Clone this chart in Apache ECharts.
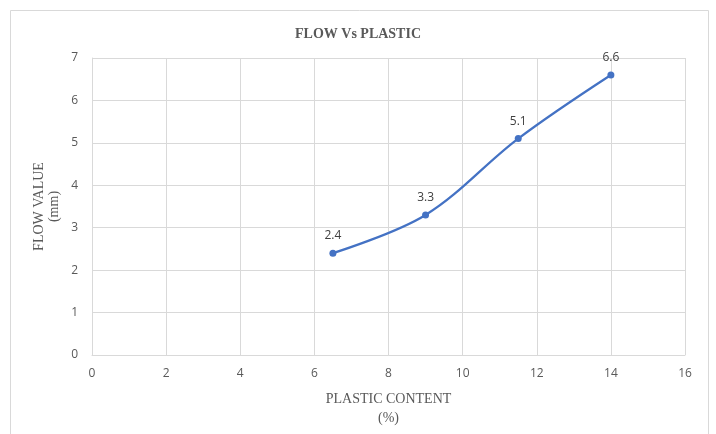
<!DOCTYPE html>
<html>
<head>
<meta charset="utf-8">
<script src="https://cdn.jsdelivr.net/npm/echarts@6/dist/echarts.min.js"></script>
<style>
  html, body { margin: 0; padding: 0; background: #fff; }
  #chart { width: 716px; height: 434px; }
</style>
</head>
<body>
<div id="chart"></div>
<script>
// Plastic content (%) against measured flow value (mm)
const plasticContent = [6.5, 9, 11.5, 14];
const flowValue = [2.4, 3.3, 5.1, 6.6];
const titleText = 'FLOW Vs PLASTIC';
const xAxisTitle = 'PLASTIC CONTENT\n(%)';
const yAxisTitle = 'FLOW VALUE\n(mm)';

const points = plasticContent.map((x, i) => [x, flowValue[i]]);

const chart = echarts.init(document.getElementById('chart'), null, { renderer: 'canvas' });
const gridColor = '#d9d9d9';
const textColor = '#595959';
const serif = '"Liberation Serif", "DejaVu Serif", serif';
const sans = '"Open Sans", "Liberation Sans", sans-serif';

chart.setOption({
  backgroundColor: '#fff',
  animation: false,
  graphic: [{
    type: 'rect',
    shape: { x: 10.5, y: 10.5, width: 698, height: 440 },
    style: { fill: 'none', stroke: gridColor, lineWidth: 1 },
    silent: true
  }],
  title: {
    text: titleText,
    left: 'center',
    top: 22,
    textStyle: { fontFamily: serif, fontWeight: 'bold', fontSize: 14, color: textColor }
  },
  grid: { left: 92, right: 31, top: 58, bottom: 79, containLabel: false, outerBoundsMode: 'none' },
  xAxis: {
    type: 'value',
    min: 0, max: 16, interval: 2,
    name: xAxisTitle,
    nameLocation: 'middle',
    nameGap: 35,
    nameMoveOverlap: false,
    nameTextStyle: { fontFamily: serif, fontSize: 14, color: textColor, lineHeight: 19 },
    axisLine: { show: true, lineStyle: { color: gridColor } },
    axisTick: { show: false },
    axisLabel: { fontFamily: sans, fontSize: 12, color: textColor, margin: 13 },
    splitLine: { show: true, lineStyle: { color: gridColor } }
  },
  yAxis: {
    type: 'value',
    min: 0, max: 7, interval: 1,
    name: yAxisTitle,
    nameLocation: 'middle',
    nameGap: 30,
    nameMoveOverlap: false,
    nameTextStyle: { fontFamily: serif, fontSize: 14, color: textColor, lineHeight: 15 },
    axisLine: { show: true, lineStyle: { color: gridColor } },
    axisTick: { show: false },
    axisLabel: { fontFamily: sans, fontSize: 12, color: textColor, margin: 14 },
    splitLine: { show: true, lineStyle: { color: gridColor } }
  },
  series: [{
    type: 'line',
    data: points,
    smooth: 0.35,
    symbol: 'circle',
    symbolSize: 7,
    lineStyle: { color: '#4472c4', width: 2.25 },
    itemStyle: { color: '#4472c4' },
    label: {
      show: true,
      position: 'top',
      distance: 8,
      fontFamily: sans,
      fontSize: 12,
      color: '#404040',
      formatter: p => String(p.value[1])
    }
  }]
});
</script>
</body>
</html>
